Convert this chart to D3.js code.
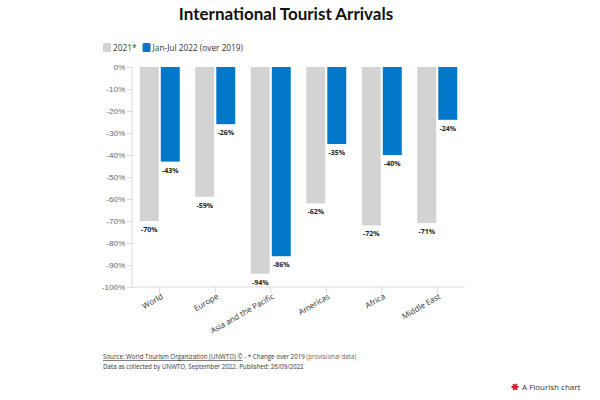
<!DOCTYPE html>
<html>
<head>
<meta charset="utf-8">
<script src="https://cdn.jsdelivr.net/npm/d3@7"></script>
<style>
	body { margin: 0; background: #fff; }
	svg { font-family: "Open Sans", "Noto Sans", sans-serif; }
	.axis path, .axis line { stroke: #d9d9d9; }
	.axis text { fill: #666; font-size: 8px; }
	.value-text { font-size: 7px; font-weight: bold; fill: #222; }
	.cat-text { font-size: 8px; fill: #333; }
	.foot-text { font-size: 6.2px; fill: #333; }
</style>
</head>
<body>
<svg id="chart" width="600" height="400"></svg>
<script>
const regions = ["World", "Europe", "Asia and the Pacific", "Americas", "Africa", "Middle East"];
const seriesNames = ["2021*", "Jan-Jul 2022 (over 2019)"];
const values2021 = [-70, -59, -94, -62, -72, -71];
const values2022 = [-43, -26, -86, -35, -40, -24];
const yTicks = [0, -10, -20, -30, -40, -50, -60, -70, -80, -90, -100];
const colors = ["#d3d3d3", "#0077c8"];

const width = 600;
const height = 400;
const margin = { top: 67, right: 135, bottom: 113, left: 132 };

const svg = d3.select("#chart");

const rows = regions.map((r, i) => ({ region: r, values: [values2021[i], values2022[i]] }));

const x = d3.scaleBand()
	.domain(regions)
	.range([margin.left, width - margin.right]);

const xInner = d3.scaleBand()
	.domain([0, 1])
	.range([x.bandwidth() / 2 - 20, x.bandwidth() / 2 + 20])
	.paddingInner(0.1);

const y = d3.scaleLinear()
	.domain([-100, 0])
	.range([height - margin.bottom, margin.top]);

// title
svg.append("text")
	.attr("x", 286)
	.attr("y", 20)
	.attr("text-anchor", "middle")
	.style("font-family", "Lato, 'Open Sans', sans-serif")
	.style("font-size", "17px")
	.style("font-weight", "bold")
	.style("fill", "#111")
	.text("International Tourist Arrivals");

// legend
const legend = svg.append("g").attr("transform", "translate(103,43)");
let lx = 0;
seriesNames.forEach((name, i) => {
	legend.append("rect")
		.attr("x", lx).attr("y", 0)
		.attr("width", 8).attr("height", 9)
		.attr("rx", 1.5)
		.attr("fill", colors[i]);
	const t = legend.append("text")
		.attr("x", lx + 10).attr("y", 8)
		.style("font-size", "8.3px")
		.style("fill", "#333")
		.text(name);
	lx += 10 + t.node().getComputedTextLength() + 6;
});

// y axis
svg.append("g")
	.attr("class", "axis")
	.attr("transform", `translate(${margin.left},0)`)
	.call(d3.axisLeft(y).tickValues(yTicks).tickSize(5).tickPadding(2).tickFormat(d => d + "%"))
	.call(g => g.select(".domain").attr("d", `M0,${y(0)}V${y(-100)}`));

// x axis
const xAxis = svg.append("g")
	.attr("class", "axis")
	.attr("transform", `translate(0,${y(-100)})`)
	.call(d3.axisBottom(x).tickSize(6).tickSizeOuter(0).tickFormat(""));

xAxis.select(".domain").attr("d", `M${margin.left},0H${width - margin.right}`);

// bars
const groups = svg.append("g")
	.selectAll("g")
	.data(rows)
	.join("g")
	.attr("transform", d => `translate(${x(d.region)},0)`);

groups.selectAll("rect")
	.data(d => d.values.map((v, i) => ({ v, i })))
	.join("rect")
	.attr("x", d => xInner(d.i))
	.attr("width", xInner.bandwidth())
	.attr("y", y(0))
	.attr("height", d => y(d.v) - y(0))
	.attr("fill", d => colors[d.i]);

groups.selectAll(".value-text")
	.data(d => d.values.map((v, i) => ({ v, i })))
	.join("text")
	.attr("class", "value-text")
	.attr("x", d => xInner(d.i) + xInner.bandwidth() / 2)
	.attr("y", d => y(d.v) + 11)
	.attr("text-anchor", "middle")
	.text(d => d.v + "%");

// category labels
svg.append("g")
	.selectAll("text")
	.data(regions)
	.join("text")
	.attr("class", "cat-text")
	.attr("text-anchor", "end")
	.attr("transform", d => `translate(${x(d) + x.bandwidth() / 2 + 4},${y(-100) + 11}) rotate(-30)`)
	.text(d => d);

// footer
const foot = svg.append("text")
	.attr("class", "foot-text")
	.attr("x", 103)
	.attr("y", 359);
foot.append("tspan")
	.style("text-decoration", "underline")
	.text("Source: World Tourism Organization (UNWTO) ©");
foot.append("tspan")
	.text(" - * Change over 2019 ");
foot.append("tspan")
	.style("fill", "#8a5a2b")
	.text("(provisional data)");

svg.append("text")
	.attr("class", "foot-text")
	.attr("x", 103)
	.attr("y", 369)
	.text("Data as collected by UNWTO, September 2022. Published: 26/09/2022");

// flourish credit
const credit = svg.append("g").attr("transform", "translate(515,387)");
[0, 60, 120].forEach(a => {
	credit.append("line")
		.attr("x1", -3.5).attr("x2", 3.5)
		.attr("transform", `rotate(${a})`)
		.attr("stroke", "#d0202d")
		.attr("stroke-width", 2);
});
credit.append("circle").attr("r", 2).attr("fill", "#d0202d");
credit.append("text")
	.attr("x", 7)
	.attr("y", 3)
	.style("font-size", "8px")
	.style("fill", "#333")
	.text("A Flourish chart");
</script>
</body>
</html>
